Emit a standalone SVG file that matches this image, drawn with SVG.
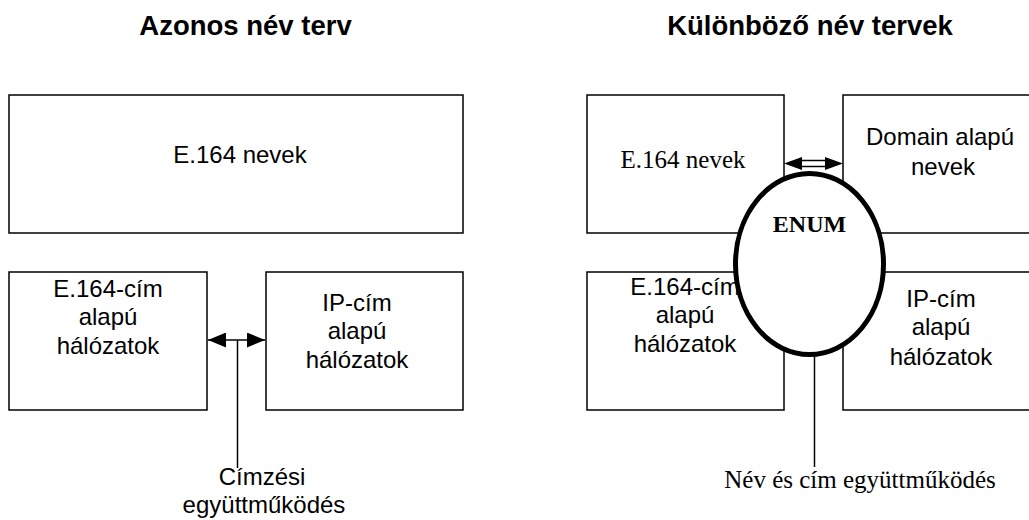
<svg xmlns="http://www.w3.org/2000/svg" width="1029" height="520" viewBox="0 0 1029 520">
<style>
.box{fill:#fff;stroke:#000;stroke-width:1.5}
.a{font-family:"Liberation Sans",Arial,sans-serif;font-size:24px;fill:#000;text-anchor:middle}
.t{font-family:"Liberation Serif","Times New Roman",serif;font-size:25px;fill:#000;text-anchor:middle}
.h{font-family:"Liberation Sans",Arial,sans-serif;font-size:27.5px;font-weight:bold;fill:#000;text-anchor:middle}
.ln{stroke:#000;stroke-width:1.5;fill:none}
</style>
<defs>
<marker id="ah" viewBox="0 0 18 15" refX="18" refY="7.5" markerWidth="18" markerHeight="15" markerUnits="userSpaceOnUse" orient="auto-start-reverse">
<path d="M0,0 L18,7.5 L0,15 Z" fill="#000"/>
</marker>
</defs>
<g id="titles">
<text class="h" x="245.5" y="35">Azonos név terv</text>
<text class="h" x="810" y="35">Különböző név tervek</text>
</g>
<g id="e164-names-left">
<rect class="box" x="9" y="95" width="454" height="138"/>
<text class="a" x="240" y="163">E.164 nevek</text>
</g>
<g id="e164-net-left">
<rect class="box" x="9" y="272" width="198" height="138"/>
<text class="a"><tspan x="108" y="297">E.164-cím</tspan><tspan x="108" y="325">alapú</tspan><tspan x="108" y="354">hálózatok</tspan></text>
</g>
<g id="ip-net-left">
<rect class="box" x="266" y="272" width="197" height="138"/>
<text class="a"><tspan x="357" y="311">IP-cím</tspan><tspan x="357" y="339">alapú</tspan><tspan x="357" y="368">hálózatok</tspan></text>
</g>
<g id="e164-names-right">
<rect class="box" x="587" y="95" width="197" height="138"/>
<text class="t" x="683" y="168">E.164 nevek</text>
</g>
<g id="domain-names-right">
<rect class="box" x="843" y="95" width="200" height="138"/>
<text class="a"><tspan x="940" y="145">Domain alapú</tspan><tspan x="943" y="175">nevek</tspan></text>
</g>
<g id="e164-net-right">
<rect class="box" x="587" y="272" width="197" height="138"/>
<text class="a"><tspan x="685" y="295">E.164-cím</tspan><tspan x="685" y="323">alapú</tspan><tspan x="685" y="352">hálózatok</tspan></text>
</g>
<g id="ip-net-right">
<rect class="box" x="843" y="272" width="200" height="138"/>
<text class="a"><tspan x="941" y="307">IP-cím</tspan><tspan x="941" y="335">alapú</tspan><tspan x="941" y="365">hálózatok</tspan></text>
</g>
<g id="connectors">
<line class="ln" x1="208" y1="340" x2="265" y2="340" marker-start="url(#ah)" marker-end="url(#ah)"/>
<line class="ln" x1="237.5" y1="340" x2="237.5" y2="468"/>
<path d="M784,163.5 L802,157 L802,170 Z M843,163.5 L825,157 L825,170 Z" fill="#000"/>
<line class="ln" x1="801" y1="160.5" x2="826" y2="160.5"/>
<line class="ln" x1="801" y1="166.5" x2="826" y2="166.5"/>
<line class="ln" x1="814.5" y1="355" x2="814.5" y2="467"/>
</g>
<g id="enum">
<ellipse cx="809.5" cy="264" rx="74" ry="90.5" fill="#fff" stroke="#000" stroke-width="5"/>
<text x="809.5" y="232" font-family="Liberation Serif,'Times New Roman',serif" font-size="24" font-weight="bold" text-anchor="middle">ENUM</text>
</g>
<g id="labels">
<text class="a"><tspan x="262" y="485">Címzési</tspan><tspan x="264" y="513">együttműködés</tspan></text>
<text class="t" x="860" y="488">Név és cím együttműködés</text>
</g>
</svg>
